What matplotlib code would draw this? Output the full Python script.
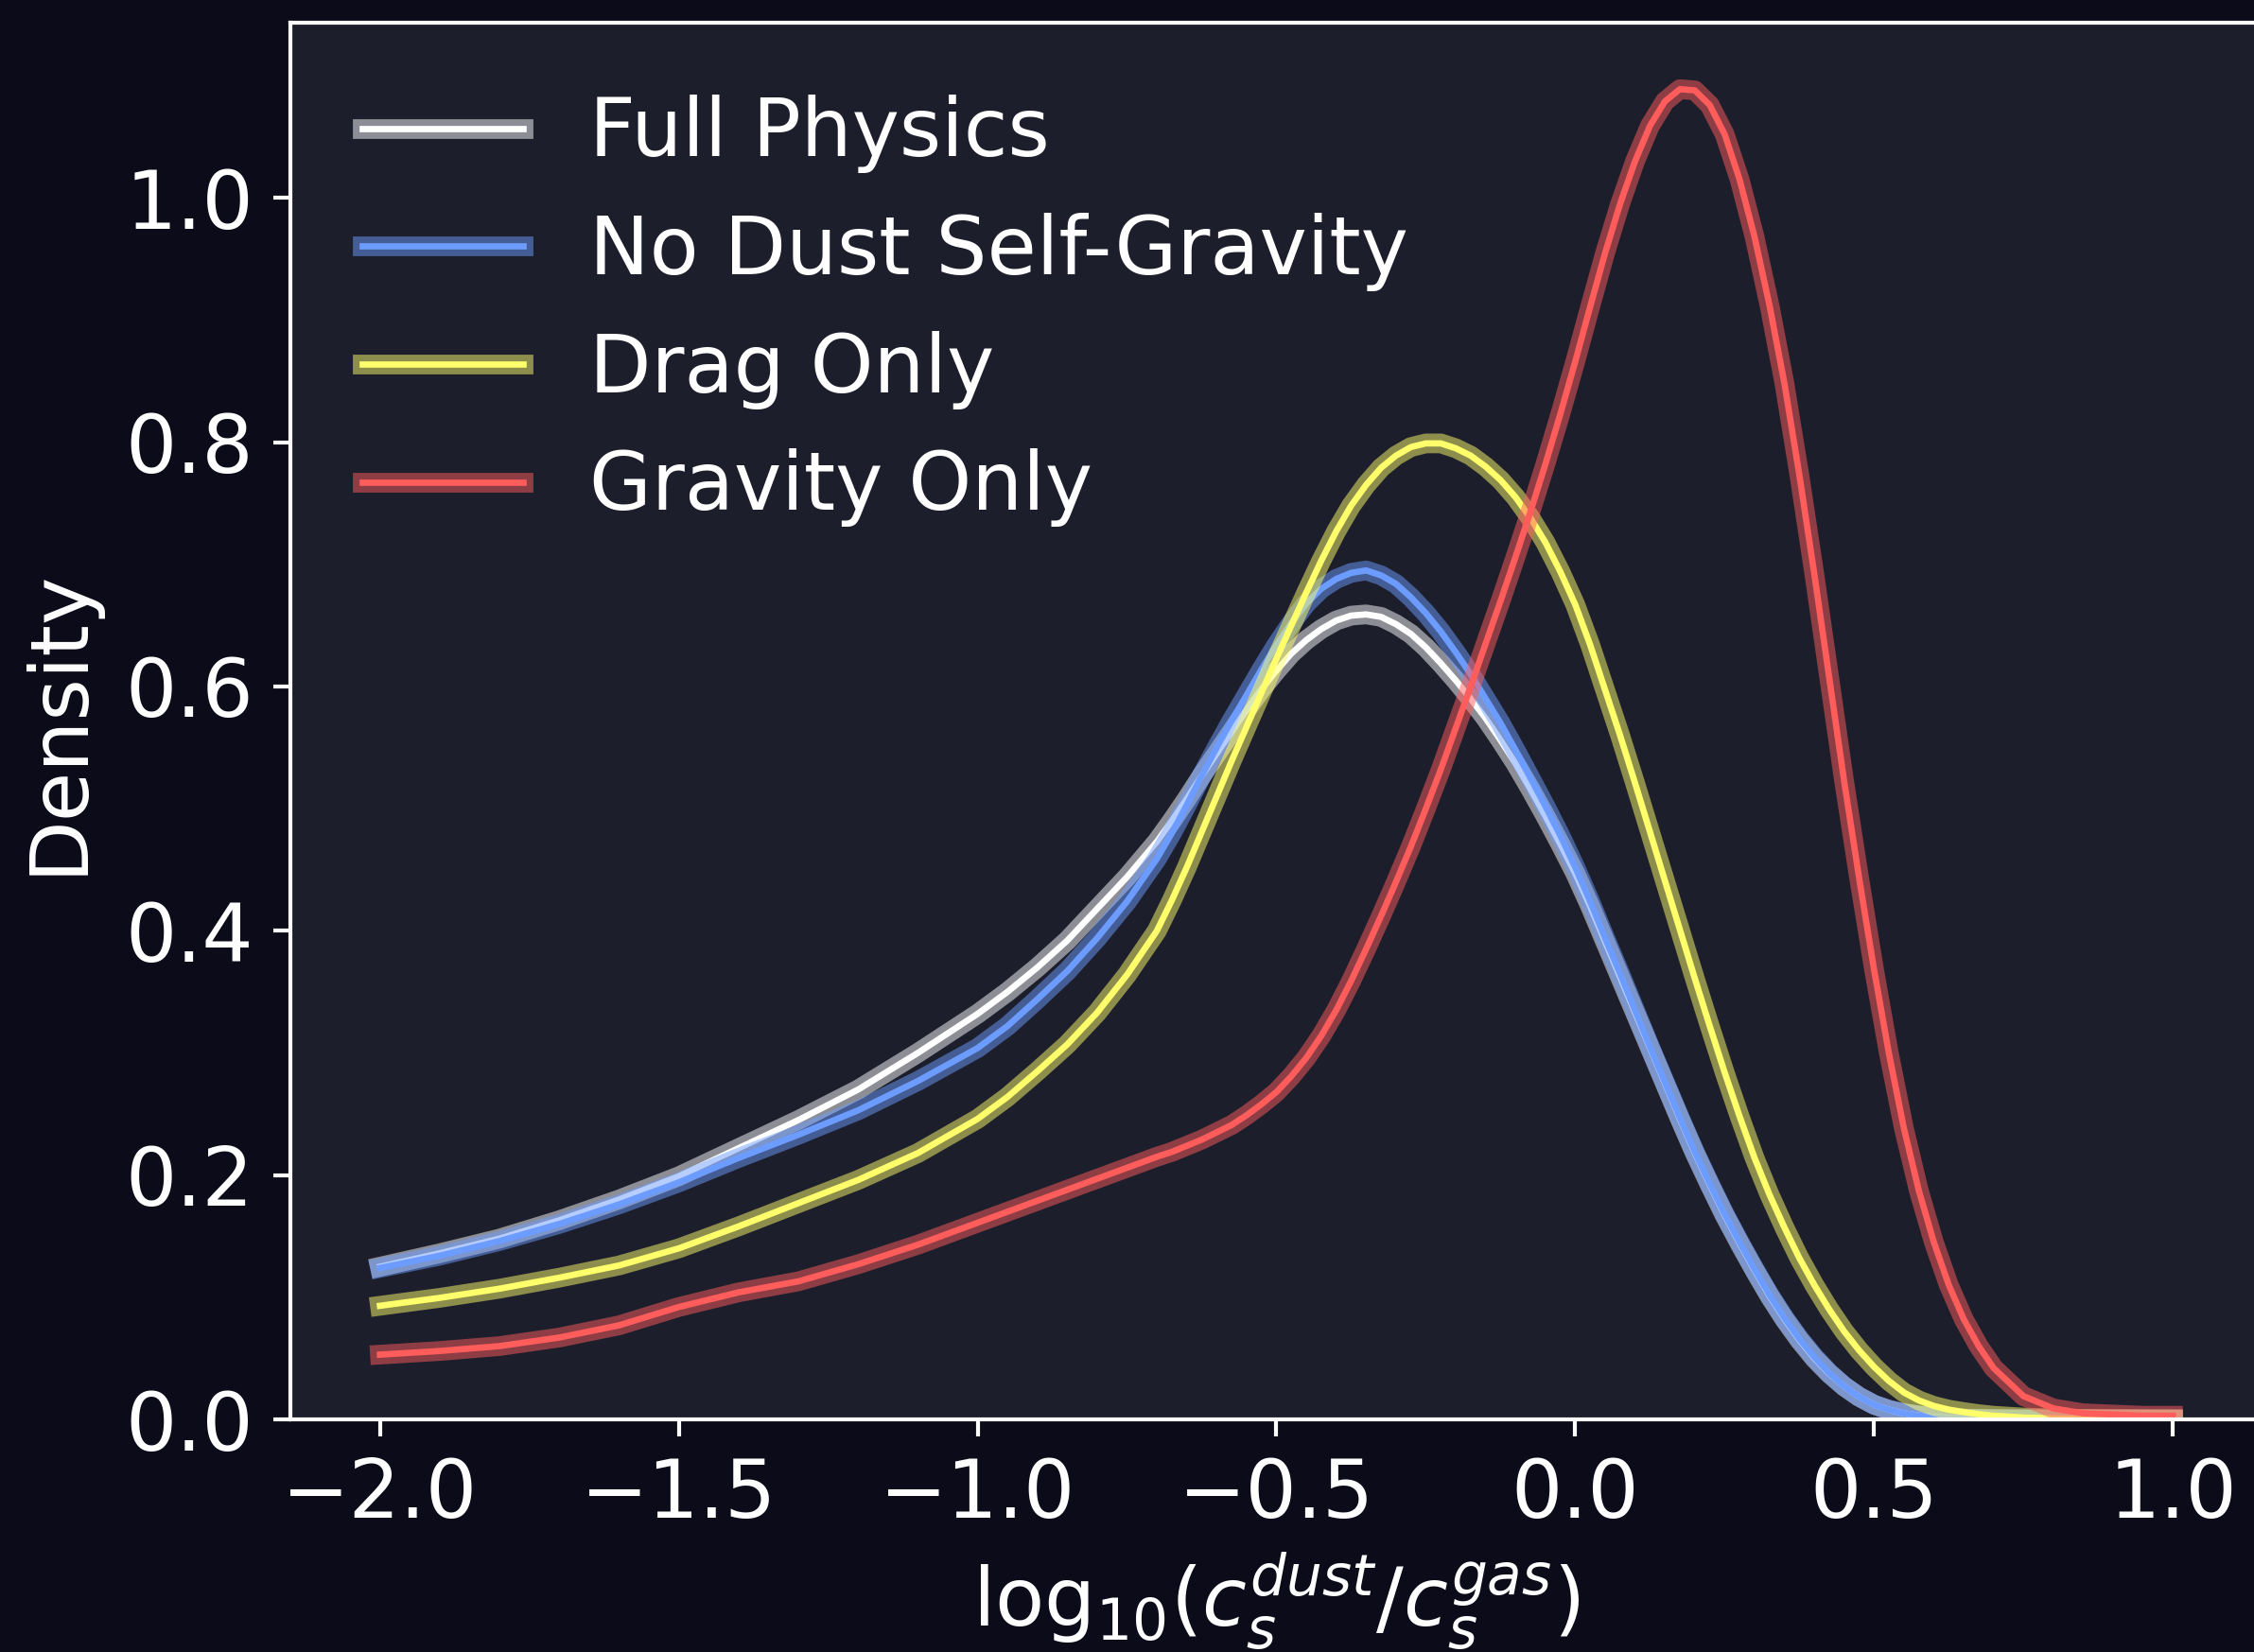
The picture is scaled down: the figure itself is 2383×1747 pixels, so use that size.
import matplotlib
matplotlib.use("Agg")
import matplotlib.pyplot as plt
import matplotlib.patheffects as pe

# Grid of log10(c_s^dust / c_s^gas) values at which each density curve is sampled
log_ratio = [
    -2.0, -1.9, -1.8, -1.7, -1.6, -1.5, -1.4, -1.3, -1.2, -1.1,
    -1.0, -0.95, -0.9, -0.85, -0.8, -0.75,
    -0.7, -0.675, -0.65, -0.625, -0.6, -0.575, -0.55, -0.525, -0.5, -0.475,
    -0.45, -0.425, -0.4, -0.375, -0.35, -0.325, -0.3, -0.275, -0.25, -0.225,
    -0.2, -0.175, -0.15, -0.125, -0.1, -0.075, -0.05, -0.025, 0.0, 0.025,
    0.05, 0.075, 0.1, 0.125, 0.15, 0.175, 0.2, 0.225, 0.25, 0.275,
    0.3, 0.325, 0.35, 0.375, 0.4, 0.425, 0.45, 0.475, 0.5, 0.525,
    0.55, 0.575, 0.6, 0.625, 0.65, 0.675, 0.7,
    0.75, 0.8, 0.85, 0.9, 0.95, 1.0,
]

full_physics = [
    0.125, 0.136, 0.148, 0.163, 0.180, 0.199, 0.222, 0.245, 0.270, 0.300,
    0.332, 0.350, 0.370, 0.392, 0.418, 0.444,
    0.473, 0.490, 0.508, 0.527, 0.545, 0.563, 0.581, 0.598, 0.613, 0.627,
    0.638, 0.647, 0.654, 0.658, 0.659, 0.657, 0.651, 0.643, 0.632, 0.619,
    0.605, 0.590, 0.574, 0.556, 0.537, 0.516, 0.494, 0.471, 0.447, 0.420,
    0.391, 0.362, 0.333, 0.304, 0.275, 0.246, 0.218, 0.192, 0.167, 0.144,
    0.122, 0.101, 0.082, 0.065, 0.050, 0.0375, 0.027, 0.0185, 0.012, 0.0078,
    0.005, 0.0032, 0.002, 0.0012, 0.0006, 0.0004, 0.0002,
    0.0, 0.0, 0.0, 0.0, 0.0, 0.0,
]

no_dust_self_gravity = [
    0.124, 0.134, 0.146, 0.160, 0.176, 0.194, 0.214, 0.233, 0.253, 0.277,
    0.304, 0.322, 0.344, 0.367, 0.394, 0.424,
    0.459, 0.480, 0.503, 0.527, 0.550, 0.572, 0.593, 0.614, 0.634, 0.652,
    0.668, 0.680, 0.688, 0.693, 0.695, 0.691, 0.684, 0.673, 0.660, 0.645,
    0.628, 0.610, 0.590, 0.570, 0.548, 0.525, 0.502, 0.478, 0.452, 0.424,
    0.394, 0.365, 0.335, 0.305, 0.276, 0.247, 0.219, 0.193, 0.168, 0.145,
    0.123, 0.102, 0.083, 0.066, 0.051, 0.038, 0.027, 0.0185, 0.012, 0.0078,
    0.005, 0.0031, 0.0017, 0.001, 0.0005, 0.0003, 0.0001,
    0.0, 0.0, 0.0, 0.0, 0.0, 0.0,
]

drag_only = [
    0.093, 0.0995, 0.107, 0.116, 0.126, 0.140, 0.158, 0.177, 0.196, 0.218,
    0.246, 0.264, 0.285, 0.307, 0.333, 0.364,
    0.400, 0.425, 0.452, 0.481, 0.510, 0.539, 0.567, 0.595, 0.623, 0.650,
    0.677, 0.703, 0.727, 0.748, 0.765, 0.779, 0.789, 0.796, 0.799, 0.799,
    0.795, 0.789, 0.780, 0.769, 0.755, 0.738, 0.718, 0.694, 0.667, 0.634,
    0.597, 0.560, 0.521, 0.481, 0.441, 0.401, 0.361, 0.322, 0.284, 0.248,
    0.214, 0.184, 0.157, 0.132, 0.110, 0.090, 0.072, 0.0565, 0.043, 0.0314,
    0.022, 0.0155, 0.011, 0.008, 0.006, 0.0043, 0.003,
    0.0015, 0.0008, 0.0004, 0.0002, 0.0001, 0.0,
]

gravity_only = [
    0.053, 0.056, 0.060, 0.067, 0.077, 0.092, 0.104, 0.113, 0.127, 0.143,
    0.161, 0.170, 0.179, 0.188, 0.197, 0.206,
    0.215, 0.219, 0.224, 0.229, 0.235, 0.241, 0.249, 0.258, 0.268, 0.281,
    0.296, 0.314, 0.335, 0.359, 0.385, 0.412, 0.440, 0.469, 0.500, 0.532,
    0.566, 0.600, 0.635, 0.670, 0.706, 0.743, 0.782, 0.823, 0.866, 0.911,
    0.955, 0.995, 1.030, 1.059, 1.079, 1.089, 1.088, 1.076, 1.052, 1.015,
    0.968, 0.912, 0.848, 0.773, 0.692, 0.607, 0.522, 0.443, 0.368, 0.299,
    0.238, 0.187, 0.145, 0.110, 0.082, 0.060, 0.042,
    0.019, 0.009, 0.005, 0.004, 0.003, 0.003,
]

series_labels = ["Full Physics", "No Dust Self-Gravity", "Drag Only", "Gravity Only"]
series_values = [full_physics, no_dust_self_gravity, drag_only, gravity_only]
series_colors = ["#ffffff", "#6c9cff", "#ffff6b", "#ff5c5c"]

FIG_BG = "#0b0b1a"
AX_BG = "#1c1e2b"
FG = "#ffffff"

fig = plt.figure(figsize=(2383 / 300, 1747 / 300), dpi=300, facecolor=FIG_BG)
ax = fig.add_axes([0.1288, 0.1408, 0.875, 0.8455], facecolor=AX_BG)

# Each curve: a bright core line over a translucent halo of the same colour
for label, values, color in zip(series_labels, series_values, series_colors):
    ax.plot(
        log_ratio, values, color=color, lw=1.6, label=label,
        solid_joinstyle="round",
        path_effects=[pe.Stroke(linewidth=5.0, foreground=color, alpha=0.5), pe.Normal()],
    )

ax.set_ylim(bottom=0)

for side in ["left", "bottom", "top", "right"]:
    ax.spines[side].set_color(FG)
    ax.spines[side].set_linewidth(1.0)

ax.tick_params(colors=FG, labelcolor=FG, labelsize=20.5, length=4.3, width=1.0, pad=5)
ax.set_xlabel(r"$\mathrm{log}_{10}(c_s^{dust}/c_s^{gas})$", color=FG, fontsize=20.5)
ax.set_ylabel("Density", color=FG, fontsize=20.5, labelpad=7)

ax.legend(loc="upper left", frameon=False, fontsize=20.4, labelcolor=FG,
          labelspacing=0.49, handletextpad=0.82)

fig.savefig("out.png", dpi=300, facecolor=FIG_BG)
